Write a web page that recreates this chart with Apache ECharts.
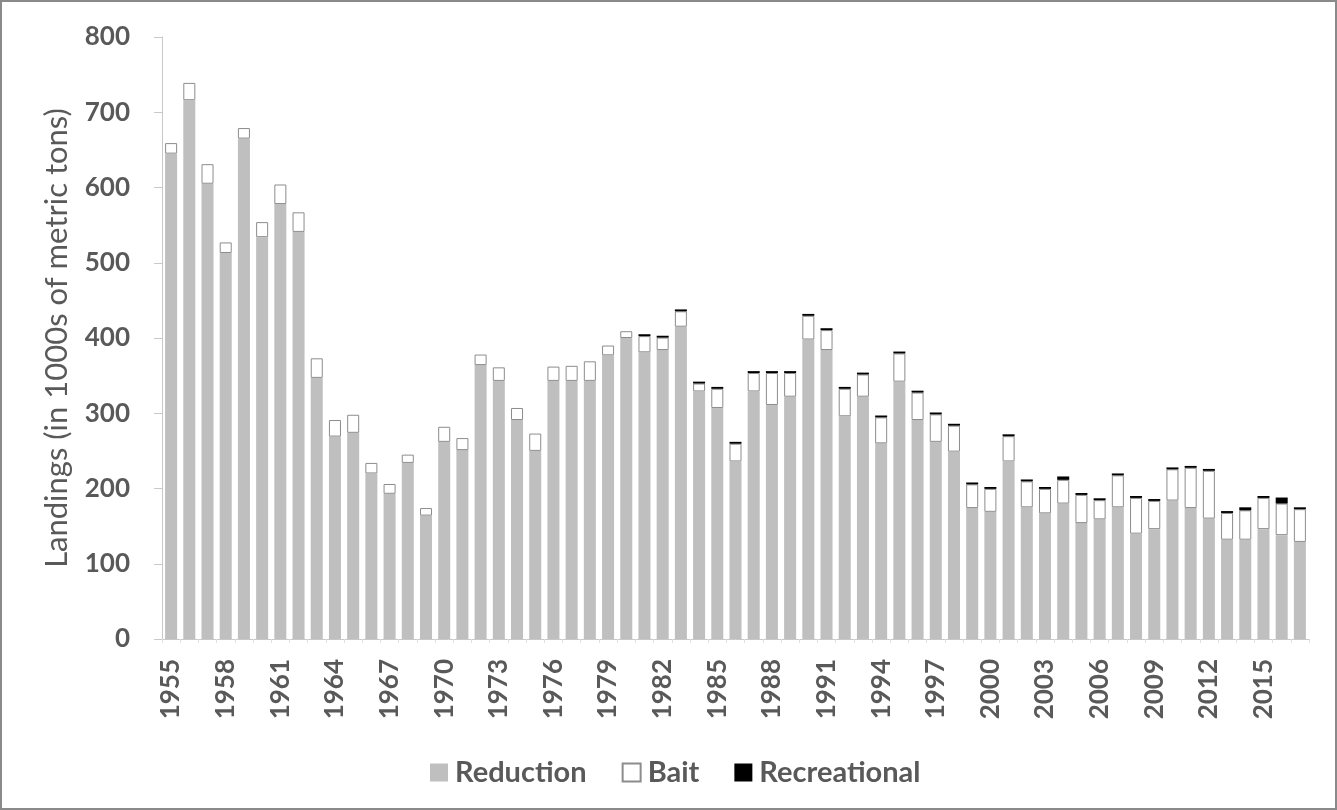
<!DOCTYPE html>
<html>
<head>
<meta charset="utf-8">
<script src="https://cdn.jsdelivr.net/npm/echarts@6/dist/echarts.min.js"></script>
<style>
html,body{margin:0;padding:0;background:#fff;}
#c{width:1337px;height:810px;}
</style>
</head>
<body>
<div id="c"></div>
<script>
const years = [];
for (let y = 1955; y <= 2017; y++) years.push(String(y));

const reduction = [645,716,605,513,665,534,578,541,347,269,274,220,193,234,164,262,251,364,343,291,
  250,343,343,343,377,400,381,384,415,329,307,236,329,311,322,398,384,296,322,260,
  342,291,262,249,174,169,236,175,167,180,154,159,175,140,146,184,174,160,132,132,
  146,138,129];

const bait = [14,23,26,14,14,20,26,26,26,22,24,14,13,11,10,20,16,14,18,16,
  23,19,20,26,13,9,21.5,16.5,20.5,10.5,25.5,23.5,24.5,42.5,31.5,31.5,26.5,36.5,29.5,34.5,
  37.5,36.5,36.5,34.5,31.5,30.5,33.5,34.5,32.5,31.5,37.5,25.5,42.5,47.5,37.5,41.5,53.5,63.5,35.5,39,
  41.5,42,43.5];

const recreational = [0,0,0,0,0,0,0,0,0,0,0,0,0,0,0,0,0,0,0,0,
  0,0,0,0,0,0,2.5,2.5,2.5,2.5,2.5,2.5,2.5,2.5,2.5,2.5,2.5,2.5,2.5,2.5,
  2.5,2.5,2.5,2.5,2.5,2.5,2.5,2.5,2.5,4.5,2.5,2.5,2.5,2.5,2.5,2.5,2.5,2.5,2.5,4,
  2.5,8,2.5];

const seriesNames = ['Reduction','Bait','Recreational'];
const yTicks = {min:0, max:800, interval:100};

const txt = '#595959';
const font = 'Lato, "Open Sans", sans-serif';

const chart = echarts.init(document.getElementById('c'), null, {renderer:'canvas'});
chart.setOption({
  animation:false,
  backgroundColor:'#ffffff',
  graphic:[{type:'rect', shape:{x:1,y:1,width:1335,height:808}, style:{fill:'none', stroke:'#8a8a8a', lineWidth:2}, silent:true}],
  grid:{left:162, right:28, top:37, bottom:171, containLabel:false},
  legend:{
    data:seriesNames,
    left:425, top:753,
    itemWidth:18, itemHeight:18, itemGap:35,
    icon:'rect',
    textStyle:{color:txt, fontFamily:font, fontWeight:'bold', fontSize:29, padding:[0,0,0,2]}
  },
  xAxis:{
    type:'category',
    data:years,
    axisLine:{show:true, lineStyle:{color:'#c8c8c8', width:1}},
    axisTick:{show:true, interval:0, length:4, lineStyle:{color:'#e0e0e0'}},
    axisLabel:{interval:2, rotate:90, margin:20, color:txt, fontFamily:font, fontWeight:'bold', fontSize:26}
  },
  yAxis:{
    type:'value',
    min:yTicks.min, max:yTicks.max, interval:yTicks.interval,
    name:'Landings (in 1000s of metric tons)',
    nameLocation:'middle', nameGap:90,
    nameTextStyle:{color:txt, fontFamily:font, fontSize:31, fontWeight:'normal'},
    axisLine:{show:true, lineStyle:{color:'#c8c8c8', width:1}},
    axisTick:{show:true, length:8, lineStyle:{color:'#c8c8c8'}},
    splitLine:{show:false},
    axisLabel:{margin:32, color:txt, fontFamily:font, fontWeight:'bold', fontSize:26}
  },
  series:[
    {name:'Reduction', type:'bar', stack:'t', data:reduction, barCategoryGap:'34%',
     itemStyle:{color:'#bfbfbf'}},
    {name:'Bait', type:'bar', stack:'t', data:bait,
     itemStyle:{color:'#ffffff', borderColor:'#8c8c8c', borderWidth:1}},
    {name:'Recreational', type:'bar', stack:'t', data:recreational,
     itemStyle:{color:'#000000'}}
  ]
});
</script>
</body>
</html>
